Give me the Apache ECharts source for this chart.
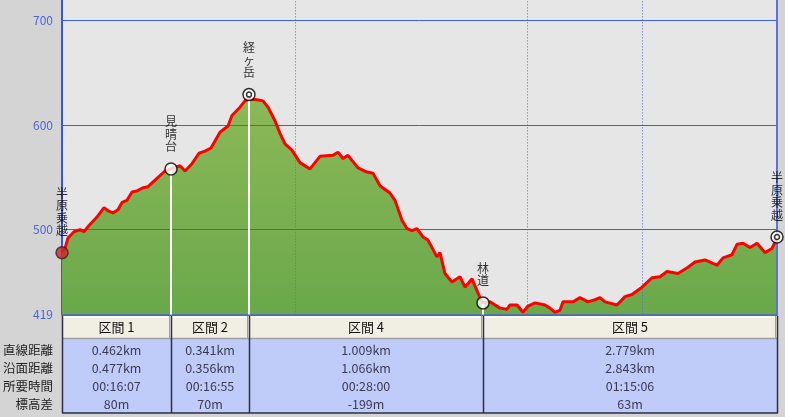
<!DOCTYPE html>
<html><head><meta charset="utf-8">
<script src="https://cdn.jsdelivr.net/npm/echarts@6/dist/echarts.min.js"></script>
<style>html,body{margin:0;padding:0;background:#d4d4d4;}#c{width:785px;height:417px;}</style>
</head><body><div id="c"></div>
<script>
// Profile: position along route (profile units) and elevation (m)
const dist = [0,3,6,12,18,22,27,35,42,46,51,56,60,65,70,75,81,86,95,103,109,118,123,130,137,143,149,158,166,170,178,183,187,195,201,206,213,218,223,230,238,248,258,271,276,281,286,296,305,311,318,328,333,340,345,350,355,361,366,375,378,383,390,398,403,410,418,421,428,438,445,448,455,461,466,473,483,488,493,498,501,511,518,526,533,538,543,555,563,570,580,590,598,605,616,626,633,643,655,661,670,675,681,688,695,703,710,715];
const elev = [479,482,492,498,500,498,504,512,521,518,516,519,526,528,536,537,540,541,549,556,558,561,556,563,573,575,578,593,599,609,617,623,625,624,623,617,604,592,582,576,564,558,570,571,574,568,571,559,555,554,542,535,528,509,501,499,501,493,490,474,478,458,450,455,445,453,435,430,431,425,424,428,428,421,427,430,428,425,421,423,431,431,435,431,433,435,431,428,436,438,445,454,455,460,458,464,469,471,466,473,476,486,487,483,487,478,482,492];

// Waypoints
const wpNames = ['半原乗越','見晴台','経ヶ岳','林道','半原乗越'];
const wpDist = [0,109,187,421,715];
const wpElev = [478,558,629,430,493];

// Axis ticks / grid
const yTicks = [419,500,600,700];
const hGrid = [500,600,700];
const vGrid = [233,465,580];

// Table
const sections = ['区間 1','区間 2','区間 4','区間 5'];
const rowLabels = ['直線距離','沿面距離','所要時間','標高差'];
const straightDist = ['0.462km','0.341km','1.009km','2.779km'];
const surfaceDist = ['0.477km','0.356km','1.066km','2.843km'];
const duration = ['00:16:07','00:16:55','00:28:00','01:15:06'];
const elevDiff = ['80m','70m','-199m','63m'];
const tableRows = [straightDist, surfaceDist, duration, elevDiff];

const FONT = '"Noto Sans CJK JP", "Noto Sans", sans-serif';
const chart = echarts.init(document.getElementById('c'), null, {renderer:'canvas'});
const pts = dist.map((d,i)=>[d,elev[i]]);
const yMin = 419, yMax = 719.4;

const gridLines = [];
hGrid.forEach(v=>gridLines.push({yAxis:v, lineStyle:{color:'#3f5fe6', width:1, type:'solid'}}));
vGrid.forEach(v=>gridLines.push({xAxis:v, lineStyle:{color:'#4a6cf0', width:1, type:[1,2]}}));
gridLines.push({xAxis:715, lineStyle:{color:'#5a74d8', width:2, type:'solid'}});
[1,2,3].forEach(i=>gridLines.push([{coord:[wpDist[i], wpElev[i]], lineStyle:{color:'#ffffff', width:2, type:'solid'}},{coord:[wpDist[i], yMin]}]));

const option = {
  animation:false,
  backgroundColor:'#d4d4d4',
  grid:{left:62, right:8, top:-1, height:315.4, show:true, backgroundColor:'#e6e6e6', borderWidth:0},
  xAxis:{type:'value', min:0, max:715, axisLabel:{show:false}, axisTick:{show:false}, splitLine:{show:false},
    axisLine:{show:true, lineStyle:{color:'#4b62d8', width:2}}},
  yAxis:{type:'value', min:yMin, max:yMax, splitLine:{show:false}, axisTick:{show:false},
    axisLine:{show:true, lineStyle:{color:'#3553f2', width:2}},
    axisLabel:{customValues:yTicks, color:'#4a66e0', fontSize:12, fontFamily:FONT, margin:9}},
  series:[
    {type:'line', data:pts, showSymbol:false, silent:true, z:1, lineStyle:{width:0},
     areaStyle:{color:new echarts.graphic.LinearGradient(0,0,0,1,[{offset:0,color:'#8cb858'},{offset:1,color:'#6aa84a'}]), opacity:1}},
    {type:'line', data:pts, showSymbol:false, silent:true, z:3, lineStyle:{width:0, opacity:0},
     markLine:{silent:true, symbol:['none','none'], label:{show:false}, data:gridLines}},
    {type:'line', data:pts, showSymbol:false, silent:true, z:5, lineStyle:{color:'#ff0000', width:3}},
    {type:'scatter', z:6, silent:true, symbol:'circle', symbolSize:12,
     data:wpDist.map((d,i)=>({value:[d,wpElev[i]], name:wpNames[i],
        itemStyle: i===0 ? {color:'#c8282a', borderColor:'#402020', borderWidth:1.5} : {color:'#ffffff', borderColor:'#000', borderWidth:1.5}})),
     label:{show:true, position:'top', distance:9, color:'#000', fontSize:12, lineHeight:12.5, fontFamily:FONT,
        formatter:p=>p.name.split('').join('\n')}},
    {type:'scatter', z:7, silent:true, symbol:'circle', symbolSize:5,
     data:[2,4].map(i=>[wpDist[i], wpElev[i]]),
     itemStyle:{color:'#ffffff', borderColor:'#000', borderWidth:1.5}}
  ]
};
chart.setOption(option);

// Table built from waypoint positions
const colX = wpDist.map(d=>Math.round(chart.convertToPixel({gridIndex:0},[d,yMin])[0]));
const tTop = 316, hH = 23, dTop = 339, dBot = 413, rowH = 18;
const g = [];
g.push({type:'rect', shape:{x:colX[0], y:dTop, width:colX[4]-colX[0], height:dBot-dTop}, style:{fill:'#bfcbf9'}});
for(let i=0;i<4;i++){
  const x0=colX[i], x1=colX[i+1];
  g.push({type:'rect', shape:{x:x0, y:tTop, width:x1-x0, height:hH}, style:{fill:'#f1eee3'}});
  g.push({type:'line', shape:{x1:x0+1, y1:tTop+1, x2:x1-1, y2:tTop+1}, style:{stroke:'#ffffff', lineWidth:1.5}});
  g.push({type:'line', shape:{x1:x0, y1:tTop+hH-0.5, x2:x1, y2:tTop+hH-0.5}, style:{stroke:'#a0a0a0', lineWidth:1.5}});
  g.push({type:'line', shape:{x1:x1-1.5, y1:tTop, x2:x1-1.5, y2:tTop+hH}, style:{stroke:'#a0a0a0', lineWidth:1}});
  const cx=(x0+x1)/2;
  g.push({type:'text', x:cx, y:tTop+hH/2, style:{text:sections[i], font:'13px '+FONT, fill:'#111', align:'center', verticalAlign:'middle'}});
  tableRows.forEach((row,r)=>{
    g.push({type:'text', x:cx, y:dTop+11.5+r*rowH, style:{text:row[i], font:'12.5px '+FONT, fill:'#3c3c52', align:'center', verticalAlign:'middle'}});
  });
}
for(let i=0;i<5;i++){
  g.push({type:'line', shape:{x1:colX[i]+0.5, y1:tTop, x2:colX[i]+0.5, y2:dBot}, style:{stroke:'#2e2e44', lineWidth:1.5}});
}
g.push({type:'line', shape:{x1:colX[0], y1:dBot, x2:colX[4]+1, y2:dBot}, style:{stroke:'#2e2e44', lineWidth:1.5}});
rowLabels.forEach((t,r)=>{
  g.push({type:'text', x:53, y:dTop+11.5+r*rowH, style:{text:t, font:'12.5px '+FONT, fill:'#1e1e1e', align:'right', verticalAlign:'middle'}});
});
chart.setOption({graphic:g.map(e=>Object.assign({silent:true, z:100}, e))});
</script></body></html>
